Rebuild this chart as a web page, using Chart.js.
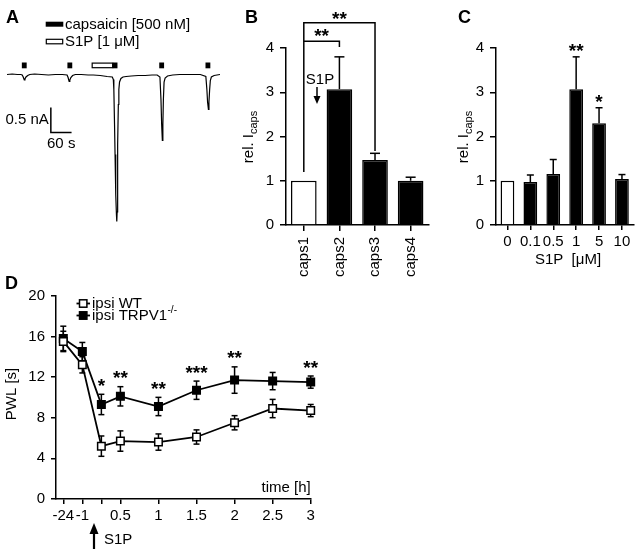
<!DOCTYPE html>
<html><head><meta charset="utf-8">
<script src="https://cdn.jsdelivr.net/npm/chart.js@4"></script>
<style>
html,body{margin:0;padding:0;background:#fff;width:635px;height:549px;overflow:hidden;position:relative}
canvas{position:absolute}
</style></head><body>
<canvas id="cA" width="230" height="270" style="left:0;top:0"></canvas>
<canvas id="cB" width="215" height="300" style="left:220px;top:0"></canvas>
<canvas id="cC" width="200" height="300" style="left:435px;top:0"></canvas>
<canvas id="cD" width="330" height="279" style="left:0;top:270px"></canvas>
<script>
// ---------- Panel A: example current trace ----------
const traceTime = [0, 15, 30, 40, 44, 47, 50, 52, 55, 60, 66, 80, 100, 120, 140, 160, 174, 177, 180, 182, 185, 190, 198, 215, 235, 250, 270, 290, 305, 308, 309.5, 311.5, 313, 315, 317, 318, 319, 320, 321, 322.5, 324, 326, 330, 336, 345, 360, 380, 400, 420, 435, 443, 446, 448, 450, 451.5, 453, 455, 458, 465, 480, 500, 520, 540, 560, 576, 579, 581, 583.5, 585, 587, 589, 592, 600, 617];
const traceCurrent = [0, 0.01, 0, 0, -0.01, -0.05, -0.11, -0.09, -0.05, -0.02, 0, 0.01, 0, -0.01, 0, 0, -0.01, -0.06, -0.14, -0.11, -0.06, -0.02, 0, 0, -0.01, -0.01, -0.02, -0.04, -0.05, -0.1, -0.3, -1.0, -1.6, -2.4, -2.8, -2.94, -2.75, -2.2, -1.4, -0.6, -0.3, -0.15, -0.08, -0.05, -0.04, -0.03, -0.02, -0.02, -0.01, -0.01, -0.05, -0.5, -1.0, -1.32, -1.0, -0.5, -0.15, -0.07, -0.03, -0.01, 0, 0, 0, 0, -0.04, -0.3, -0.55, -0.70, -0.55, -0.3, -0.12, -0.05, -0.02, 0];
const capsStart = [43, 175, 306, 441, 575];
const capsDuration = 14;
const s1pStart = 245, s1pEnd = 306;
const scaleBarTime = 60, scaleBarCurrent = 0.5;

// ---------- Panel B ----------
const bCategories = ['caps1', 'caps2', 'caps3', 'caps4'];
const bMean = [1.0, 3.07, 1.47, 1.0];
const bSem = [0, 0.73, 0.15, 0.08];

// ---------- Panel C ----------
const cCategories = ['0', '0.1', '0.5', '1', '5', '10'];
const cMean = [1.0, 0.97, 1.15, 3.07, 2.3, 1.04];
const cSem = [0, 0.16, 0.33, 0.73, 0.35, 0.1];
const cStars = ['', '', '', '**', '*', ''];

// ---------- Panel D ----------
const dTimes = [-24, -1, 0.25, 0.5, 1, 1.5, 2, 2.5, 3];
const dTickLabels = ['-24', '-1', '', '0.5', '1', '1.5', '2', '2.5', '3'];
const wtMean = [15.5, 13.2, 5.2, 5.7, 5.6, 6.1, 7.5, 8.9, 8.7];
const wtSem = [1.0, 0.8, 1.0, 1.0, 0.8, 0.7, 0.7, 0.9, 0.6];
const koMean = [15.8, 14.5, 9.3, 10.1, 9.1, 10.7, 11.7, 11.6, 11.5];
const koSem = [1.2, 0.9, 1.0, 0.95, 0.9, 0.9, 1.3, 0.85, 0.6];
const dStars = ['', '', '*', '**', '**', '***', '**', '', '**'];

// ================================================================
const FONT = "'Liberation Sans', Arial, Helvetica, sans-serif";
Chart.defaults.font.family = FONT;
Chart.defaults.color = '#000';
Chart.defaults.animation = false;

function txt(ctx, s, x, y, size, o = {}) {
  ctx.save();
  ctx.font = (o.bold ? 'bold ' : '') + size + 'px ' + FONT;
  ctx.fillStyle = '#000';
  ctx.textAlign = o.align || 'left';
  ctx.textBaseline = o.baseline || 'middle';
  ctx.fillText(s, x, y);
  ctx.restore();
}
function line(ctx, pts, w = 1.5) {
  ctx.save();
  ctx.strokeStyle = '#000'; ctx.lineWidth = w;
  ctx.beginPath();
  pts.forEach((p, i) => i ? ctx.lineTo(p[0], p[1]) : ctx.moveTo(p[0], p[1]));
  ctx.stroke();
  ctx.restore();
}
function arrow(ctx, x, yTail, yHead, headW, headH, lw = 1.5) {
  line(ctx, [[x, yTail], [x, yHead + (yHead > yTail ? -headH + 1 : headH - 1)]], lw);
  ctx.save(); ctx.fillStyle = '#000'; ctx.beginPath();
  const d = yHead > yTail ? -1 : 1;
  ctx.moveTo(x, yHead); ctx.lineTo(x - headW / 2, yHead + d * headH); ctx.lineTo(x + headW / 2, yHead + d * headH);
  ctx.closePath(); ctx.fill(); ctx.restore();
}
function relIcaps(ctx, x, y) {
  ctx.save();
  ctx.translate(x, y); ctx.rotate(-Math.PI / 2);
  ctx.font = '15px ' + FONT;
  const a = 'rel. I', b = 'caps';
  const wa = ctx.measureText(a).width;
  ctx.font = '11px ' + FONT;
  const wb = ctx.measureText(b).width;
  const x0 = -(wa + wb) / 2;
  ctx.fillStyle = '#000'; ctx.textBaseline = 'alphabetic';
  ctx.font = '15px ' + FONT; ctx.fillText(a, x0, 5);
  ctx.font = '11px ' + FONT; ctx.fillText(b, x0 + wa, 9);
  ctx.restore();
}
function stars(ctx, s, x, yCenter) {
  txt(ctx, s, x, yCenter + 10, 19, { bold: true, align: 'center', baseline: 'alphabetic' });
}

const errBars = {
  id: 'errbars',
  beforeDatasetsDraw(chart, a, o) { if (o.under) draw(chart, o); },
  afterDatasetsDraw(chart, a, o) { if (!o.under) draw(chart, o); }
};
function draw(chart, o) {
  const ctx = chart.ctx, ys = chart.scales.y;
  chart.data.datasets.forEach((ds, di) => {
    if (!ds.errors) return;
    const meta = chart.getDatasetMeta(di);
    meta.data.forEach((el, i) => {
      const e = ds.errors[i]; if (!e) return;
      const v = ds.data[i]; const val = typeof v === 'object' ? v.y : v;
      const x = el.x, top = ys.getPixelForValue(val + e);
      const bot = o.both ? ys.getPixelForValue(val - e) : ys.getPixelForValue(val);
      const c = o.cap / 2;
      line(ctx, [[x, top], [x, bot]], o.lw);
      line(ctx, [[x - c, top], [x + c, top]], o.lw);
      if (o.both) line(ctx, [[x - c, bot], [x + c, bot]], o.lw);
    });
  });
}

const axisGrid = (len) => ({ drawOnChartArea: false, drawTicks: true, tickLength: len, color: '#000', lineWidth: 1.5 });
const axisBorder = { display: true, color: '#000', width: 1.5 };

// ---------------- Panel A ----------------
new Chart(document.getElementById('cA'), {
  type: 'line',
  data: { datasets: [{ data: traceTime.map((t, i) => ({ x: t, y: traceCurrent[i] })), borderColor: '#000', borderWidth: 1.2, pointRadius: 0, tension: 0 }] },
  options: {
    responsive: false, animation: false,
    layout: { padding: { left: 7, right: 10, top: 55, bottom: 35 } },
    plugins: { legend: { display: false }, tooltip: { enabled: false } },
    scales: {
      x: { type: 'linear', min: 0, max: 617, display: false },
      y: { min: -3.21, max: 0.39, display: false }
    }
  },
  plugins: [{
    id: 'panelA',
    afterDraw(chart) {
      const ctx = chart.ctx, xs = chart.scales.x, ys = chart.scales.y;
      txt(ctx, 'A', 6, 22.5, 18, { bold: true, baseline: 'alphabetic' });
      ctx.save(); ctx.fillStyle = '#000';
      ctx.fillRect(45.7, 21.7, 17.6, 5);
      ctx.restore();
      txt(ctx, 'capsaicin [500 nM]', 65, 24.5, 15);
      ctx.save(); ctx.strokeStyle = '#000'; ctx.lineWidth = 1.2;
      ctx.strokeRect(46.3, 39.3, 16.4, 4.5); ctx.restore();
      txt(ctx, 'S1P [1 μM]', 65, 42, 15);
      // application bars
      ctx.save(); ctx.fillStyle = '#000';
      capsStart.forEach(s => {
        const x1 = xs.getPixelForValue(s), x2 = xs.getPixelForValue(s + capsDuration);
        ctx.fillRect(x1, 62.5, x2 - x1, 5.8);
      });
      ctx.strokeStyle = '#000'; ctx.lineWidth = 1.2;
      const sx1 = xs.getPixelForValue(s1pStart), sx2 = xs.getPixelForValue(s1pEnd);
      ctx.strokeRect(sx1 + 0.6, 63.1, sx2 - sx1 - 0.6, 4.6);
      ctx.restore();
      // scale bar
      const t0 = 127, i0 = -1.16;
      const x0 = xs.getPixelForValue(t0), y0 = ys.getPixelForValue(i0);
      const x1 = xs.getPixelForValue(t0 + scaleBarTime), y1 = ys.getPixelForValue(i0 + scaleBarCurrent);
      line(ctx, [[x0, y1], [x0, y0], [x1, y0]], 1.5);
      txt(ctx, '0.5 nA', x0 - 2, (y0 + y1) / 2, 15, { align: 'right' });
      txt(ctx, '60 s', (x0 + x1) / 2, y0 + 11.5, 15, { align: 'center' });
    }
  }]
});

// ---------------- Panel B ----------------
new Chart(document.getElementById('cB'), {
  type: 'bar',
  data: { labels: bCategories, datasets: [{ data: bMean, errors: bSem,
    backgroundColor: bMean.map((v, i) => i === 0 ? '#fff' : '#000'), borderColor: '#000', borderWidth: 1.5,
    barPercentage: 0.72, categoryPercentage: 1 }] },
  options: {
    responsive: false, animation: false,
    layout: { padding: { left: 0, right: 3, top: 48, bottom: 0 } },
    plugins: { legend: { display: false }, tooltip: { enabled: false }, errbars: { cap: 10, lw: 1.5 } },
    scales: {
      x: { grid: Object.assign(axisGrid(6), { offset: false }), border: axisBorder,
        ticks: { minRotation: 90, maxRotation: 90, padding: 6, font: { size: 15 } },
        afterFit: s => { s.height = 75; } },
      y: { min: 0, max: 4, grid: axisGrid(6), border: axisBorder,
        ticks: { stepSize: 1, padding: 6, font: { size: 15 } },
        afterFit: s => { s.width = 66; } }
    }
  },
  plugins: [errBars, {
    id: 'panelB',
    afterDraw(chart) {
      const ctx = chart.ctx, xs = chart.scales.x, ys = chart.scales.y;
      txt(ctx, 'B', 25, 22.5, 18, { bold: true, baseline: 'alphabetic' });
      relIcaps(ctx, 28, 137);
      const xa = xs.getPixelForValue(0), xb = xs.getPixelForValue(1), xc = xs.getPixelForValue(2);
      const yOuter = ys.getPixelForValue(4.57), yInner = ys.getPixelForValue(4.15);
      line(ctx, [[xa, ys.getPixelForValue(bMean[0] + 0.2)], [xa, yOuter], [xc, yOuter], [xc, ys.getPixelForValue(bMean[2] + bSem[2] + 0.05)]], 1.5);
      line(ctx, [[xa, yInner], [xb, yInner], [xb, ys.getPixelForValue(bMean[1] + bSem[1] + 0.22)]], 1.5);
      stars(ctx, '**', (xa + xc) / 2, yOuter - 8);
      stars(ctx, '**', (xa + xb) / 2, yInner - 9);
      txt(ctx, 'S1P', 100, 80, 15, { align: 'center' });
      arrow(ctx, 97, 87, 104, 7, 8);
    }
  }]
});

// ---------------- Panel C ----------------
new Chart(document.getElementById('cC'), {
  type: 'bar',
  data: { labels: cCategories, datasets: [{ data: cMean, errors: cSem,
    backgroundColor: cMean.map((v, i) => i === 0 ? '#fff' : '#000'), borderColor: '#000', borderWidth: 1.5,
    barPercentage: 0.6, categoryPercentage: 1 }] },
  options: {
    responsive: false, animation: false,
    layout: { padding: { left: 0, right: 1.6, top: 48, bottom: 0 } },
    plugins: { legend: { display: false }, tooltip: { enabled: false }, errbars: { cap: 7, lw: 1.5 } },
    scales: {
      x: { grid: Object.assign(axisGrid(5), { offset: false }), border: axisBorder,
        ticks: { maxRotation: 0, minRotation: 0, padding: 3, autoSkip: false, font: { size: 15 } },
        afterFit: s => { s.height = 75; } },
      y: { min: 0, max: 4, grid: axisGrid(6), border: axisBorder,
        ticks: { stepSize: 1, padding: 6, font: { size: 15 } },
        afterFit: s => { s.width = 61; } }
    }
  },
  plugins: [errBars, {
    id: 'panelC',
    afterDraw(chart) {
      const ctx = chart.ctx, xs = chart.scales.x, ys = chart.scales.y;
      txt(ctx, 'C', 23, 22.5, 18, { bold: true, baseline: 'alphabetic' });
      relIcaps(ctx, 28, 137);
      cStars.forEach((s, i) => { if (s) stars(ctx, s, xs.getPixelForValue(i), ys.getPixelForValue(cMean[i] + cSem[i]) - 10); });
      txt(ctx, 'S1P  [μM]', 133, 259.5, 15, { align: 'center' });
    }
  }]
});

// ---------------- Panel D ----------------
const preTimes = dTimes.filter(t => t < 0);
const brokenAxis = t => t < 0 ? (preTimes.indexOf(t) - (preTimes.length - 1)) * 0.25 : t;
const mkSeries = (m) => dTimes.map((t, i) => ({ x: brokenAxis(t), y: m[i] }));
new Chart(document.getElementById('cD'), {
  type: 'line',
  data: { datasets: [
    { label: 'ipsi WT', data: mkSeries(wtMean), errors: wtSem, borderColor: '#000', borderWidth: 1.8,
      pointStyle: 'rect', pointRadius: 5.3, pointBackgroundColor: '#fff', pointBorderColor: '#000', pointBorderWidth: 1.5, clip: false, tension: 0 },
    { label: 'ipsi TRPV1-/-', data: mkSeries(koMean), errors: koSem, borderColor: '#000', borderWidth: 1.8,
      pointStyle: 'rect', pointRadius: 5.3, pointBackgroundColor: '#000', pointBorderColor: '#000', pointBorderWidth: 1.5, clip: false, tension: 0 }
  ] },
  options: {
    responsive: false, animation: false,
    layout: { padding: { left: 0, right: 19.3, top: 25.7, bottom: 0 } },
    plugins: { legend: { display: false }, tooltip: { enabled: false }, errbars: { cap: 6, lw: 1.5, both: true, under: true } },
    scales: {
      x: { type: 'linear', min: -0.346, max: 3, grid: axisGrid(5), border: axisBorder,
        afterBuildTicks: s => { s.ticks = dTimes.map(t => ({ value: brokenAxis(t) })); },
        ticks: { autoSkip: false, maxRotation: 0, padding: 3, font: { size: 15 }, callback: (v, i) => dTickLabels[i] },
        afterFit: s => { s.height = 50; } },
      y: { min: 0, max: 20, grid: axisGrid(5), border: axisBorder,
        ticks: { stepSize: 2, padding: 6, font: { size: 15 }, callback: v => (v % 4 === 0 ? v : '') },
        afterFit: s => { s.width = 56; } }
    }
  },
  plugins: [errBars, {
    id: 'panelD',
    afterDraw(chart) {
      const ctx = chart.ctx, xs = chart.scales.x, ys = chart.scales.y;
      txt(ctx, 'D', 5, 19, 18, { bold: true, baseline: 'alphabetic' });
      ctx.save(); ctx.translate(12, 124); ctx.rotate(-Math.PI / 2);
      ctx.font = '15px ' + FONT; ctx.fillStyle = '#000'; ctx.textAlign = 'center'; ctx.textBaseline = 'middle';
      ctx.fillText('PWL [s]', 0, 0); ctx.restore();
      // legend
      [[33.5, '#fff'], [45.5, '#000']].forEach(([y, fill], k) => {
        line(ctx, [[76.5, y], [90, y]], 1.8);
        ctx.save(); ctx.fillStyle = fill; ctx.strokeStyle = '#000'; ctx.lineWidth = 1.5;
        ctx.fillRect(79.5, y - 3.7, 7.4, 7.4); ctx.strokeRect(79.5, y - 3.7, 7.4, 7.4); ctx.restore();
      });
      txt(ctx, 'ipsi WT', 92, 33.5, 15);
      txt(ctx, 'ipsi TRPV1', 92, 45.5, 15);
      ctx.save(); ctx.font = '15px ' + FONT; const w = ctx.measureText('ipsi TRPV1').width; ctx.restore();
      txt(ctx, '-/-', 92 + w + 0.5, 40.5, 10);
      // stars
      dStars.forEach((s, i) => { if (s) stars(ctx, s, xs.getPixelForValue(brokenAxis(dTimes[i])), ys.getPixelForValue(koMean[i] + koSem[i]) - 12.5); });
      txt(ctx, 'time [h]', xs.right, 217.5, 15, { align: 'right' });
      arrow(ctx, 94, 279, 253, 9, 11, 2.2);
      txt(ctx, 'S1P', 104, 270, 15);
    }
  }]
});
</script>
</body></html>
